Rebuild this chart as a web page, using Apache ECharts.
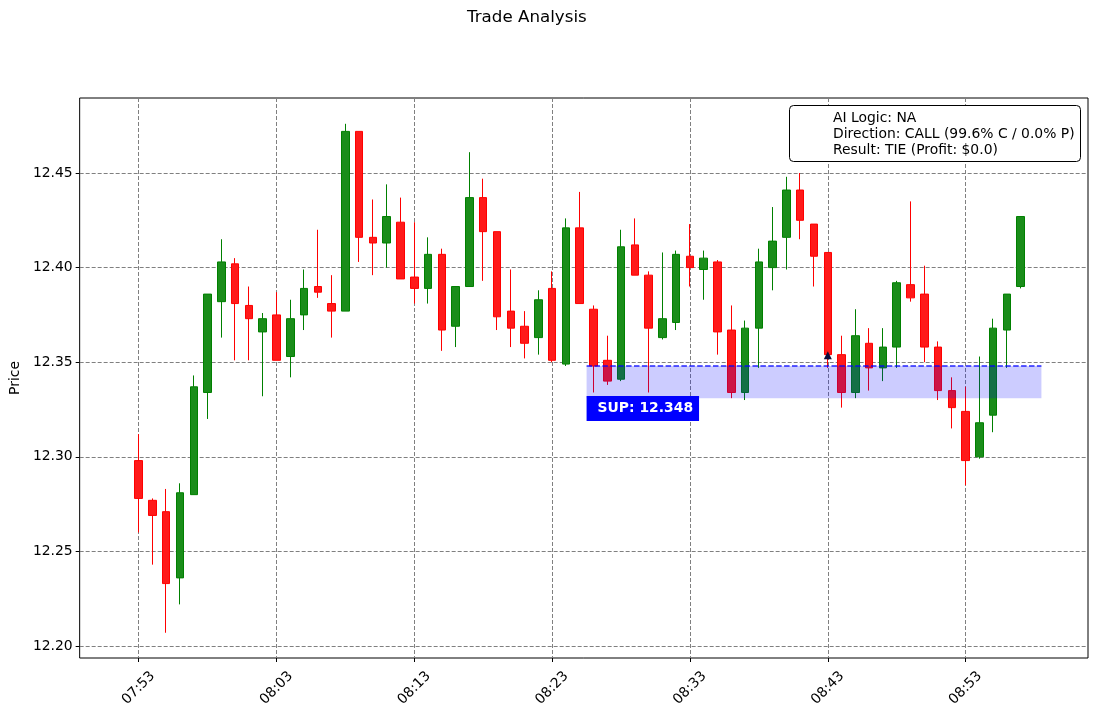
<!DOCTYPE html>
<html>
<head>
<meta charset="utf-8">
<title>Trade Analysis</title>
<script src="https://cdn.jsdelivr.net/npm/echarts@6/dist/echarts.min.js"></script>
<style>
  html, body { margin: 0; padding: 0; background: #fff; }
  #main { width: 1096px; height: 716px; }
</style>
</head>
<body>
<div id="main"></div>
<script>
// candles: x = minutes after 07:53, one per minute
var opens  = [12.298, 12.277, 12.271, 12.236, 12.280, 12.334, 12.382, 12.402, 12.380, 12.366,
              12.375, 12.353, 12.375, 12.390, 12.381, 12.377, 12.472, 12.416, 12.413, 12.424,
              12.395, 12.389, 12.407, 12.369, 12.390, 12.437, 12.419, 12.377, 12.369, 12.363,
              12.389, 12.349, 12.421, 12.378, 12.351, 12.341, 12.412, 12.396, 12.363, 12.371,
              12.406, 12.399, 12.403, 12.367, 12.334, 12.368, 12.400, 12.416, 12.441, 12.423,
              12.408, 12.354, 12.334, 12.360, 12.347, 12.358, 12.391, 12.386, 12.358, 12.335,
              12.324, 12.300, 12.322, 12.367, 12.390];
var closes = [12.278, 12.269, 12.233, 12.281, 12.337, 12.386, 12.403, 12.381, 12.373, 12.373,
              12.351, 12.373, 12.389, 12.387, 12.377, 12.472, 12.416, 12.413, 12.427, 12.394,
              12.389, 12.407, 12.367, 12.390, 12.437, 12.419, 12.374, 12.368, 12.360, 12.383,
              12.351, 12.421, 12.381, 12.348, 12.340, 12.411, 12.396, 12.368, 12.373, 12.407,
              12.400, 12.405, 12.366, 12.334, 12.368, 12.403, 12.414, 12.441, 12.425, 12.406,
              12.354, 12.334, 12.364, 12.347, 12.358, 12.392, 12.384, 12.358, 12.335, 12.326,
              12.298, 12.318, 12.368, 12.386, 12.427];
var lows   = [12.260, 12.243, 12.207, 12.222, 12.280, 12.320, 12.363, 12.351, 12.351, 12.332,
              12.351, 12.342, 12.367, 12.384, 12.363, 12.377, 12.403, 12.396, 12.400, 12.394,
              12.381, 12.381, 12.356, 12.358, 12.390, 12.393, 12.367, 12.358, 12.352, 12.354,
              12.350, 12.348, 12.381, 12.334, 12.338, 12.340, 12.396, 12.334, 12.362, 12.367,
              12.390, 12.383, 12.354, 12.331, 12.330, 12.347, 12.388, 12.399, 12.415, 12.390,
              12.347, 12.326, 12.331, 12.335, 12.340, 12.347, 12.382, 12.350, 12.330, 12.315,
              12.285, 12.299, 12.313, 12.347, 12.389];
var highs  = [12.312, 12.278, 12.283, 12.286, 12.343, 12.386, 12.415, 12.405, 12.390, 12.376,
              12.387, 12.383, 12.399, 12.420, 12.396, 12.476, 12.472, 12.436, 12.444, 12.437,
              12.424, 12.416, 12.410, 12.390, 12.461, 12.447, 12.419, 12.399, 12.377, 12.388,
              12.398, 12.426, 12.440, 12.380, 12.364, 12.420, 12.426, 12.398, 12.408, 12.409,
              12.423, 12.409, 12.404, 12.380, 12.372, 12.410, 12.432, 12.448, 12.450, 12.423,
              12.408, 12.364, 12.378, 12.368, 12.368, 12.393, 12.435, 12.401, 12.361, 12.342,
              12.337, 12.353, 12.373, 12.386, 12.427];

var xTickPos    = [0, 10, 20, 30, 40, 50, 60];
var xTickLabels = ['07:53', '08:03', '08:13', '08:23', '08:33', '08:43', '08:53'];
var yTicks      = [12.20, 12.25, 12.30, 12.35, 12.40, 12.45];

var supLevel  = 12.348;
var supBottom = 12.331;
var supStart  = 32.5;
var supEnd    = 65.5;
var entryIndex = 50;
var entryPrice = 12.3537;

var infoLines = [
  'AI Logic: NA',
  'Direction: CALL (99.6% C / 0.0% P)',
  'Result: TIE (Profit: $0.0)'
];

var candles = opens.map(function (o, i) {
  return [i, o, closes[i], lows[i], highs[i]];
});

var font = 'DejaVu Sans';
var fs = 13.9;

var chart = echarts.init(document.getElementById('main'));
var option = {
  backgroundColor: '#fff',
  animation: false,
  textStyle: { fontFamily: font },
  title: [{
    text: 'Trade Analysis',
    left: 467,
    top: 9,
    padding: 0,
    textStyle: { fontFamily: font, fontSize: 16.7, fontWeight: 'normal', color: '#000' }
  }, {
    text: infoLines.join('\n'),
    left: 789,
    top: 105,
    padding: [5, 6, 4, 44],
    backgroundColor: '#fff',
    borderColor: '#000',
    borderWidth: 1,
    borderRadius: 4,
    z: 20,
    textStyle: { fontFamily: font, fontSize: fs, fontWeight: 'normal', color: '#000', lineHeight: 16 }
  }],
  grid: {
    left: 79, top: 98, right: 8, bottom: 58,
    show: true, borderColor: '#000', borderWidth: 1, backgroundColor: '#fff'
  },
  xAxis: {
    type: 'value',
    min: -4.28,
    max: 68.88,
    axisLine: { show: false, onZero: false },
    axisTick: { show: true, length: 4, lineStyle: { color: '#000' }, customValues: xTickPos },
    axisLabel: {
      customValues: xTickPos,
      rotate: 45,
      align: 'center',
      verticalAlign: 'middle',
      margin: 30,
      fontSize: fs,
      color: '#000',
      fontFamily: font,
      formatter: function (v) {
        var k = xTickPos.indexOf(Math.round(v));
        return k >= 0 ? xTickLabels[k] : '';
      }
    },
    splitLine: { show: true, lineStyle: { color: '#808080', type: [4, 2], width: 1 } }
  },
  yAxis: {
    type: 'value',
    min: 12.19366,
    max: 12.48964,
    name: 'Price',
    nameLocation: 'middle',
    nameGap: 56,
    nameTextStyle: { fontFamily: font, fontSize: fs, color: '#000' },
    axisLine: { show: false, onZero: false },
    axisTick: { show: true, length: 4, lineStyle: { color: '#000' }, customValues: yTicks },
    axisLabel: {
      customValues: yTicks,
      margin: 7,
      fontSize: fs,
      color: '#000',
      fontFamily: font,
      formatter: function (v) { return v.toFixed(2); }
    },
    splitLine: { show: true, lineStyle: { color: '#808080', type: [4, 2], width: 1 } }
  },
  series: [{
    name: 'Price',
    type: 'candlestick',
    data: candles,
    barWidth: 8,
    z: 2,
    itemStyle: {
      color: '#1a8d1a',
      color0: '#ff1a1a',
      borderColor: '#008000',
      borderColor0: '#ff0000',
      borderWidth: 1
    }
  }, {
    name: 'SUP zone',
    type: 'custom',
    z: 3,
    silent: true,
    data: [[supStart, supEnd, supLevel, supBottom]],
    renderItem: function (params, api) {
      var p0 = api.coord([api.value(0), api.value(2)]);
      var p1 = api.coord([api.value(1), api.value(3)]);
      return {
        type: 'rect',
        shape: { x: p0[0], y: p0[1], width: p1[0] - p0[0], height: p1[1] - p0[1] },
        style: { fill: 'rgba(0,0,255,0.2)' }
      };
    }
  }, {
    name: 'SUP line',
    type: 'line',
    z: 4,
    silent: true,
    symbol: 'none',
    data: [[supStart, supLevel], [supEnd, supLevel]],
    lineStyle: { color: 'rgba(0,0,255,0.85)', width: 1.5, type: [5.5, 2.4] }
  }, {
    name: 'SUP label',
    type: 'scatter',
    z: 5,
    silent: true,
    symbolSize: 0,
    itemStyle: { opacity: 1 },
    data: [[supStart, supLevel - 0.0225]],
    label: {
      show: true,
      position: 'right',
      distance: 0,
      opacity: 1,
      formatter: function () { return 'SUP: ' + supLevel.toFixed(3); },
      backgroundColor: '#0000ff',
      color: '#fff',
      fontFamily: font,
      fontWeight: 'bold',
      fontSize: fs,
      padding: [6, 6, 5, 11]
    }
  }, {
    name: 'Entry',
    type: 'scatter',
    z: 5,
    silent: true,
    symbol: 'triangle',
    symbolSize: 8,
    itemStyle: { color: '#0b0b3b', opacity: 1 },
    data: [[entryIndex, entryPrice]]
  }]
};
chart.setOption(option);
</script>
</body>
</html>
